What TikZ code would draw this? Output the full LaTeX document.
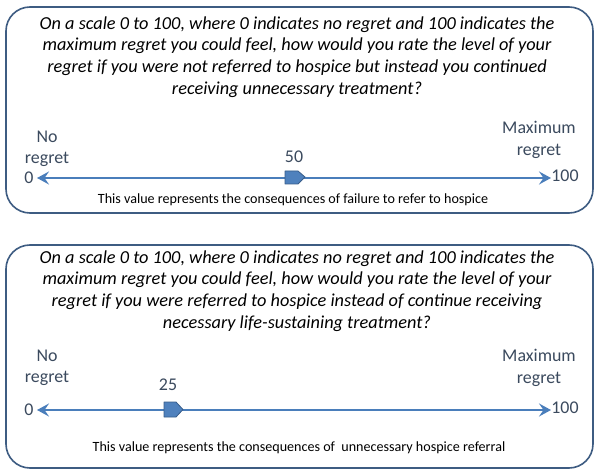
\documentclass[tikz,border=0pt]{standalone}
\usepackage{fontspec}
\setmainfont{Carlito}
\usetikzlibrary{arrows.meta}
\definecolor{boxline}{HTML}{3E5C82}
\definecolor{arrowc}{HTML}{4A7EBB}
\definecolor{markfill}{HTML}{4F81BD}
\definecolor{markline}{HTML}{385D8A}
\definecolor{labc}{HTML}{3B4A5E}
\tikzset{
  panel/.style={draw=boxline, line width=1.6bp, rounded corners=24bp},
  question/.style={align=center, font=\fontsize{18.3bp}{21.6bp}\selectfont\itshape, text=black, inner sep=0pt},
  lab/.style={font=\fontsize{17.9bp}{21.5bp}\selectfont, text=labc, inner sep=0pt, align=center},
  caption/.style={font=\fontsize{14.1bp}{16bp}\selectfont, text=black, inner sep=0pt},
  scaleline/.style={draw=arrowc, line width=2.4bp, {Stealth[length=12bp,width=13bp,inset=4.5bp]}-{Stealth[length=12bp,width=13bp,inset=4.5bp]}},
  marker/.style={draw=markline, fill=markfill, line width=0.8bp, line join=round}
}
\begin{document}
\begin{tikzpicture}[x=1bp,y=-1bp]
\useasboundingbox (0,0) rectangle (600,476);
\fill[white] (0,0) rectangle (600,476);
% ---------- panel 1
\draw[panel] (6,7) rectangle (593,213);
\node[question] (q1) at (297,57) {On a scale 0 to 100, where 0 indicates no regret and 100 indicates the\\maximum regret you could feel, how would you rate the level of your\\regret if you were not referred to hospice but instead you continued\\receiving unnecessary treatment?};
\node[lab] (z1) at (29,178) {0};
\node[lab] (h1) at (565,176) {100};
\node[lab] (n1) at (47,149) {No\\regret};
\node[lab] (m1) at (539,140) {Maximum\\regret};
\coordinate (l1) at (37,178);
\coordinate (r1) at (551,178);
\draw[scaleline] (l1) -- (r1);
\draw[marker] (285,171) -- (298,171) -- (305,177) -- (298,184) -- (285,184) -- cycle;
\node[lab] (v1) at (294,157) {50};
\node[caption] (c1) at (293,200) {This value represents the consequences of failure to refer to hospice};
% ---------- panel 2
\draw[panel] (6,245) rectangle (593,468);
\node[question] (q2) at (297,291) {On a scale 0 to 100, where 0 indicates no regret and 100 indicates the\\maximum regret you could feel, how would you rate the level of your\\regret if you were referred to hospice instead of continue receiving\\necessary life-sustaining treatment?};
\node[lab] (z2) at (29,410) {0};
\node[lab] (h2) at (565,408) {100};
\node[lab] (n2) at (47,368) {No\\regret};
\node[lab] (m2) at (539,368) {Maximum\\regret};
\coordinate (l2) at (37,410);
\coordinate (r2) at (551,410);
\draw[scaleline] (l2) -- (r2);
\draw[marker] (164,402) -- (176,402) -- (183,409.5) -- (176,417) -- (164,417) -- cycle;
\node[lab] (v2) at (168,385) {25};
\node[caption] (c2) at (299,448) {This value represents the consequences of \ unnecessary hospice referral};
\end{tikzpicture}
\end{document}
